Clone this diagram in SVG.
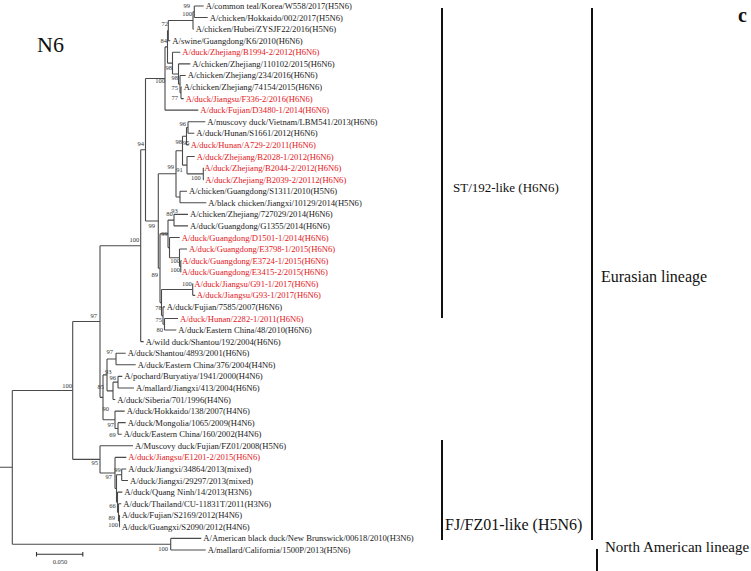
<svg xmlns="http://www.w3.org/2000/svg" width="751" height="571" viewBox="0 0 751 571">
<style>
.br{fill:none;stroke:#4a4a4a;stroke-width:1.1}
.t{font-family:"Liberation Serif",serif;font-size:8.6px;fill:#1a1a1a}
.r{fill:#e3161b}
.b{font-family:"Liberation Serif",serif;font-size:6.5px;fill:#333;text-anchor:end}
.bar{fill:none;stroke:#111;stroke-width:2}
.L{font-family:"Liberation Serif",serif;fill:#111}
</style>
<rect width="751" height="571" fill="#fff"/>
<g id="connectors">
<path class="br" d="M194.3 6V17.57M194.3 6H203.7M194.3 17.57H207.7"/>
<path class="br" d="M193 11.79V29.15M193 11.79H194.3M193 29.15H193.7"/>
<path class="br" d="M168.3 20.47V40.72M168.3 20.47H193M168.3 40.72H170.3"/>
<path class="br" d="M181 87.02V98.59M181 87.02H181.7M181 98.59H183.7"/>
<path class="br" d="M180 75.44V92.8M180 75.44H185.7M180 92.8H181"/>
<path class="br" d="M178.5 63.87V84.12M178.5 63.87H190.3M178.5 84.12H180"/>
<path class="br" d="M172.5 52.3V74M172.5 52.3H180.3M172.5 74H178.5"/>
<path class="br" d="M167.5 30.6V63.15M167.5 30.6H168.3M167.5 63.15H172.5"/>
<path class="br" d="M165 46.88V110.17M165 46.88H167.5M165 110.17H198.3"/>
<path class="br" d="M188 121.74V133.31M188 121.74H205.3M188 133.31H194.3"/>
<path class="br" d="M186.5 127.53V144.89M186.5 127.53H188M186.5 144.89H188.7"/>
<path class="br" d="M203.3 168.04V179.61M203.3 168.04H203.8M203.3 179.61H204"/>
<path class="br" d="M187 156.46V173.83M187 156.46H194.7M187 173.83H203.3"/>
<path class="br" d="M182.5 136.21V165.14M182.5 136.21H186.5M182.5 165.14H187"/>
<path class="br" d="M180 191.18V202.76M180 191.18H187M180 202.76H206.3"/>
<path class="br" d="M176 150.68V196.97M176 150.68H182.5M176 196.97H180"/>
<path class="br" d="M174 214.33V225.91M174 214.33H188M174 225.91H188"/>
<path class="br" d="M180.8 260.63V272.2M180.8 260.63H181.5M180.8 272.2H181"/>
<path class="br" d="M179.5 249.05V266.42M179.5 249.05H187M179.5 266.42H180.8"/>
<path class="br" d="M169.5 237.48V257.73M169.5 237.48H179.7M169.5 257.73H179.5"/>
<path class="br" d="M168 220.12V247.6M168 220.12H174M168 247.6H169.5"/>
<path class="br" d="M192.7 283.78V295.35M192.7 283.78H193.3M192.7 295.35H195.2"/>
<path class="br" d="M164.5 318.5V330.07M164.5 318.5H178M164.5 330.07H176.3"/>
<path class="br" d="M163 306.92V324.29M163 306.92H164.9M163 324.29H164.5"/>
<path class="br" d="M161.5 289.57V315.6M161.5 289.57H192.7M161.5 315.6H163"/>
<path class="br" d="M160 233.86V302.6M160 233.86H168M160 302.6H161.5"/>
<path class="br" d="M158.3 173.82V268.23M158.3 173.82H176M158.3 268.23H160"/>
<path class="br" d="M145.5 78.52V221M145.5 78.52H165M145.5 221H158.3"/>
<path class="br" d="M140.7 149.76V341.65M140.7 149.76H145.5M140.7 341.65H143.7"/>
<path class="br" d="M116 353.22V364.8M116 353.22H125.7M116 364.8H135.7"/>
<path class="br" d="M118 376.37V387.94M118 376.37H122.3M118 387.94H134"/>
<path class="br" d="M113 382.16V399.52M113 382.16H118M113 399.52H115.3"/>
<path class="br" d="M107 359.01V390.84M107 359.01H116M107 390.84H113"/>
<path class="br" d="M118 422.67V434.24M118 422.67H125.7M118 434.24H121.7"/>
<path class="br" d="M115 411.09V428.46M115 411.09H124.7M115 428.46H118"/>
<path class="br" d="M103 374.92V419.77M103 374.92H107M103 419.77H115"/>
<path class="br" d="M100 245.7V397.35M100 245.7H140.7M100 397.35H103"/>
<path class="br" d="M121.7 468.96V480.54M121.7 468.96H126.3M121.7 480.54H128"/>
<path class="br" d="M119.5 515.26V526.83M119.5 515.26H120M119.5 526.83H120"/>
<path class="br" d="M118.5 503.68V521.05M118.5 503.68H121.3M118.5 521.05H119.5"/>
<path class="br" d="M117.5 492.11V512.36M117.5 492.11H122.3M117.5 512.36H118.5"/>
<path class="br" d="M116.5 474.75V502.24M116.5 474.75H121.7M116.5 502.24H117.5"/>
<path class="br" d="M115 457.39V488.5M115 457.39H126.3M115 488.5H116.5"/>
<path class="br" d="M100 445.81V472.94M100 445.81H133M100 472.94H115"/>
<path class="br" d="M72.7 321.5V459.38M72.7 321.5H100M72.7 459.38H100"/>
<path class="br" d="M170.7 538.41V549.98M170.7 538.41H201.3M170.7 549.98H205.7"/>
<path class="br" d="M12.3 390.44V544.2M12.3 390.44H72.7M12.3 544.2H170.7M0 467.3H12.3"/>
</g>
<g id="bootstrap">
<text class="b" x="190" y="7.6">99</text>
<text class="b" x="192" y="16.3">100</text>
<text class="b" x="168" y="26.3">72</text>
<text class="b" x="167" y="43">84</text>
<text class="b" x="172" y="69.6">98</text>
<text class="b" x="178" y="80">98</text>
<text class="b" x="165" y="83">100</text>
<text class="b" x="178" y="90">75</text>
<text class="b" x="178" y="100">77</text>
<text class="b" x="186" y="126.3">96</text>
<text class="b" x="182" y="144">98</text>
<text class="b" x="189.5" y="145">95</text>
<text class="b" x="144" y="146.3">94</text>
<text class="b" x="174" y="169">99</text>
<text class="b" x="182.7" y="171.6">91</text>
<text class="b" x="200.7" y="179.6">100</text>
<text class="b" x="177.7" y="213">93</text>
<text class="b" x="155" y="228.3">99</text>
<text class="b" x="172.7" y="216.3">80</text>
<text class="b" x="167.7" y="235.6">99</text>
<text class="b" x="180" y="263">100</text>
<text class="b" x="180" y="272.3">100</text>
<text class="b" x="158" y="277.3">89</text>
<text class="b" x="191.7" y="286.3">100</text>
<text class="b" x="139.3" y="241.6">100</text>
<text class="b" x="161.7" y="310">78</text>
<text class="b" x="162" y="321.6">75</text>
<text class="b" x="163" y="332.3">80</text>
<text class="b" x="97" y="318">97</text>
<text class="b" x="72" y="388">100</text>
<text class="b" x="113" y="354.3">97</text>
<text class="b" x="111.5" y="373.5">93</text>
<text class="b" x="116" y="380">96</text>
<text class="b" x="104" y="389">85</text>
<text class="b" x="109" y="411.3">90</text>
<text class="b" x="114" y="427">97</text>
<text class="b" x="115.7" y="436.6">69</text>
<text class="b" x="98" y="465.3">95</text>
<text class="b" x="120.7" y="471.6">99</text>
<text class="b" x="112" y="479.3">97</text>
<text class="b" x="115.7" y="508">66</text>
<text class="b" x="115" y="520">89</text>
<text class="b" x="118" y="526.6">100</text>
<text class="b" x="168" y="550.6">100</text>
</g>
<g id="leaves">
<g id="n1"><text class="t" x="205.7" y="9">A/common teal/Korea/W558/2017(H5N6)</text></g>
<g id="n2"><text class="t" x="209.7" y="20.6">A/chicken/Hokkaido/002/2017(H5N6)</text></g>
<g id="n3"><text class="t" x="195.7" y="32.2">A/chicken/Hubei/ZYSJF22/2016(H5N6)</text></g>
<g id="n4"><text class="t" x="172.3" y="43.7">A/swine/Guangdong/K6/2010(H6N6)</text></g>
<g id="n5"><text class="t r" x="182.3" y="55.3">A/duck/Zhejiang/B1994-2/2012(H6N6)</text></g>
<g id="n6"><text class="t" x="192.3" y="66.9">A/chicken/Zhejiang/110102/2015(H6N6)</text></g>
<g id="n7"><text class="t" x="187.7" y="78.4">A/chicken/Zhejiang/234/2016(H6N6)</text></g>
<g id="n8"><text class="t" x="183.7" y="90">A/chicken/Zhejiang/74154/2015(H6N6)</text></g>
<g id="n9"><text class="t r" x="185.7" y="101.6">A/duck/Jiangsu/F336-2/2016(H6N6)</text></g>
<g id="n10"><text class="t r" x="200.3" y="113.2">A/duck/Fujian/D3480-1/2014(H6N6)</text></g>
<g id="n11"><text class="t" x="207.3" y="124.7">A/muscovy duck/Vietnam/LBM541/2013(H6N6)</text></g>
<g id="n12"><text class="t" x="196.3" y="136.3">A/duck/Hunan/S1661/2012(H6N6)</text></g>
<g id="n13"><text class="t r" x="190.7" y="147.9">A/duck/Hunan/A729-2/2011(H6N6)</text></g>
<g id="n14"><text class="t r" x="196.7" y="159.5">A/duck/Zhejiang/B2028-1/2012(H6N6)</text></g>
<g id="n15"><text class="t r" x="204.3" y="171">A/duck/Zhejiang/B2044-2/2012(H6N6)</text></g>
<g id="n16"><text class="t r" x="205.3" y="182.6">A/duck/Zhejiang/B2039-2/20112(H6N6)</text></g>
<g id="n17"><text class="t" x="189" y="194.2">A/chicken/Guangdong/S1311/2010(H5N6)</text></g>
<g id="n18"><text class="t" x="208.3" y="205.8">A/black chicken/Jiangxi/10129/2014(H5N6)</text></g>
<g id="n19"><text class="t" x="190" y="217.3">A/chicken/Zhejiang/727029/2014(H6N6)</text></g>
<g id="n20"><text class="t" x="190" y="228.9">A/duck/Guangdong/G1355/2014(H6N6)</text></g>
<g id="n21"><text class="t r" x="181.7" y="240.5">A/duck/Guangdong/D1501-1/2014(H6N6)</text></g>
<g id="n22"><text class="t r" x="189" y="252">A/duck/Guangdong/E3798-1/2015(H6N6)</text></g>
<g id="n23"><text class="t r" x="182.3" y="263.6">A/duck/Guangdong/E3724-1/2015(H6N6)</text></g>
<g id="n24"><text class="t r" x="181.7" y="275.2">A/duck/Guangdong/E3415-2/2015(H6N6)</text></g>
<g id="n25"><text class="t r" x="194.3" y="286.8">A/duck/Jiangsu/G91-1/2017(H6N6)</text></g>
<g id="n26"><text class="t r" x="196.7" y="298.4">A/duck/Jiangsu/G93-1/2017(H6N6)</text></g>
<g id="n27"><text class="t" x="166.7" y="309.9">A/duck/Fujian/7585/2007(H6N6)</text></g>
<g id="n28"><text class="t r" x="180" y="321.5">A/duck/Hunan/2282-1/2011(H6N6)</text></g>
<g id="n29"><text class="t" x="178.3" y="333.1">A/duck/Eastern China/48/2010(H6N6)</text></g>
<g id="n30"><text class="t" x="145.7" y="344.6">A/wild duck/Shantou/192/2004(H6N6)</text></g>
<g id="n31"><text class="t" x="127.7" y="356.2">A/duck/Shantou/4893/2001(H6N6)</text></g>
<g id="n32"><text class="t" x="137.7" y="367.8">A/duck/Eastern China/376/2004(H4N6)</text></g>
<g id="n33"><text class="t" x="124.3" y="379.4">A/pochard/Buryatiya/1941/2000(H4N6)</text></g>
<g id="n34"><text class="t" x="136" y="390.9">A/mallard/Jiangxi/413/2004(H6N6)</text></g>
<g id="n35"><text class="t" x="117.3" y="402.5">A/duck/Siberia/701/1996(H4N6)</text></g>
<g id="n36"><text class="t" x="126.7" y="414.1">A/duck/Hokkaido/138/2007(H4N6)</text></g>
<g id="n37"><text class="t" x="127.7" y="425.7">A/duck/Mongolia/1065/2009(H4N6)</text></g>
<g id="n38"><text class="t" x="123.7" y="437.2">A/duck/Eastern China/160/2002(H4N6)</text></g>
<g id="n39"><text class="t" x="135" y="448.8">A/Muscovy duck/Fujian/FZ01/2008(H5N6)</text></g>
<g id="n40"><text class="t r" x="128.3" y="460.4">A/duck/Jiangsu/E1201-2/2015(H6N6)</text></g>
<g id="n41"><text class="t" x="128.3" y="472">A/duck/Jiangxi/34864/2013(mixed)</text></g>
<g id="n42"><text class="t" x="130" y="483.5">A/duck/Jiangxi/29297/2013(mixed)</text></g>
<g id="n43"><text class="t" x="124.3" y="495.1">A/duck/Quang Ninh/14/2013(H3N6)</text></g>
<g id="n44"><text class="t" x="123.3" y="506.7">A/duck/Thailand/CU-11831T/2011(H3N6)</text></g>
<g id="n45"><text class="t" x="121.7" y="518.3">A/duck/Fujian/S2169/2012(H4N6)</text></g>
<g id="n46"><text class="t" x="121.7" y="529.8">A/duck/Guangxi/S2090/2012(H4N6)</text></g>
<g id="n47"><text class="t" x="203.3" y="541.4">A/American black duck/New Brunswick/00618/2010(H3N6)</text></g>
<g id="n48"><text class="t" x="207.7" y="553">A/mallard/California/1500P/2013(H5N6)</text></g>
</g>
<g id="scale">
<path d="M36 554.3H83.3M36.5 552V556.6M82.8 552V556.6" fill="none" stroke="#333" stroke-width="1.1"/>
<text class="b" x="60" y="563.5" style="text-anchor:middle">0.050</text>
</g>
<g id="brackets">
<path class="bar" d="M442 8V318M592 8V540M442 440V540M597 549V571"/>
</g>
<g id="labels">
<text class="L" x="37" y="52" font-size="22">N6</text>
<text class="L" x="738" y="22" font-size="20" font-weight="bold">c</text>
<text class="L" x="453" y="192" font-size="13">ST/192-like (H6N6)</text>
<text class="L" x="601" y="282" font-size="16">Eurasian lineage</text>
<text class="L" x="445" y="530" font-size="16">FJ/FZ01-like (H5N6)</text>
<text class="L" x="605" y="552" font-size="15">North American lineage</text>
</g>
</svg>
